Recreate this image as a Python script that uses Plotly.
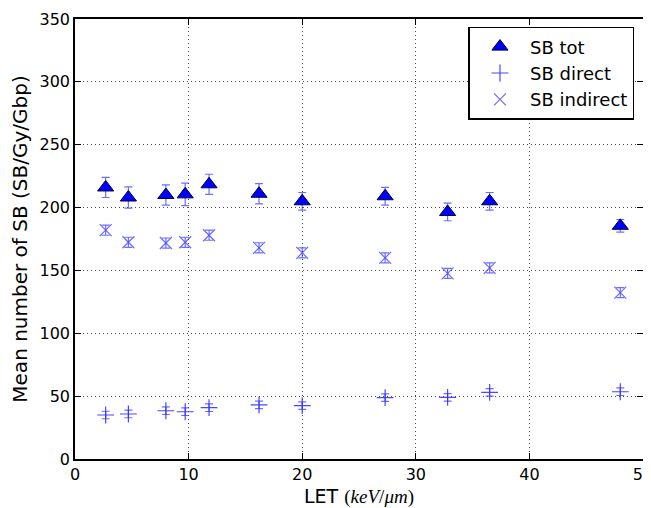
import plotly.graph_objects as go

let = [2.7, 4.7, 8.0, 9.7, 11.8, 16.2, 20.0, 27.3, 32.8, 36.5, 48.0]
sb_tot = [216, 208, 210, 210.5, 218.5, 211, 205, 209, 196.5, 205, 185.5]
sb_tot_err = [8, 8.5, 8, 9, 8, 8, 7, 7, 7, 7, 5]
sb_direct = [35, 35.8, 38.4, 37.6, 40.8, 43, 42.4, 48.8, 49, 53, 53.5]
sb_direct_err = [3, 3, 3, 3, 3, 3, 3, 3, 3, 3, 3]
sb_indirect = [182, 172.4, 171.8, 172.4, 178, 168, 164, 160, 147.7, 152, 132.3]
sb_indirect_err = [4, 4, 4, 4, 4, 4, 4, 4, 4, 4, 4]

font = "DejaVu Sans"
errc = "rgba(60,60,255,0.75)"

fig = go.Figure()
fig.add_trace(go.Scatter(
    x=let, y=sb_tot, mode="markers", name="SB tot",
    marker=dict(symbol="triangle-up", size=14, color="#0000ff",
                line=dict(color="#000040", width=1)),
    error_y=dict(type="data", array=sb_tot_err, color=errc, thickness=1.2, width=4),
))
fig.add_trace(go.Scatter(
    x=let, y=sb_direct, mode="markers", name="SB direct",
    marker=dict(symbol="cross-thin-open", size=12, color="rgba(40,40,255,0.85)",
                line=dict(color="rgba(40,40,255,0.85)", width=1.2)),
    error_y=dict(type="data", array=sb_direct_err, color=errc, thickness=1.2, width=4),
))
fig.add_trace(go.Scatter(
    x=let, y=sb_indirect, mode="markers", name="SB indirect",
    marker=dict(symbol="x-thin-open", size=12, color="rgba(70,70,255,0.8)",
                line=dict(color="rgba(70,70,255,0.8)", width=1.2)),
    error_y=dict(type="data", array=sb_indirect_err, color=errc, thickness=1.2, width=4),
))

axis_common = dict(
    showline=True, linecolor="black", linewidth=1.5, mirror="ticks",
    ticks="inside", ticklen=6, tickcolor="black", tickwidth=1,
    showgrid=True, gridcolor="rgba(0,0,0,0.7)", griddash="1px,3px", gridwidth=1,
    zeroline=False, automargin=False, ticklabeloverflow="allow",
    tickfont=dict(family=font, size=16, color="black"),
)
serif = "font-family:Liberation Serif;font-size:19px"
fig.update_xaxes(range=[0, 50], dtick=10, **axis_common,
                 title=dict(text=f"LET <span style='{serif}'>(<i>keV</i>/<i>μm</i>)</span>",
                            font=dict(family=font, size=19, color="black"), standoff=10))
fig.update_yaxes(range=[0, 350], dtick=50, **axis_common,
                 title=dict(text="Mean number of SB (SB/Gy/Gbp)",
                            font=dict(family=font, size=20, color="black"), standoff=10))

fig.update_layout(
    width=643, height=500,
    margin=dict(l=67, r=8, t=11, b=49),
    plot_bgcolor="white", paper_bgcolor="white",
    font=dict(family=font, color="black"),
    legend=dict(x=0.985, y=0.982, xanchor="right", yanchor="top",
                bordercolor="black", borderwidth=1.5, bgcolor="white",
                font=dict(family=font, size=18, color="black"),
                itemwidth=50, tracegroupgap=0),
    showlegend=True,
)

fig.write_html("out.html", post_script="document.body.style.overflow='hidden';")
